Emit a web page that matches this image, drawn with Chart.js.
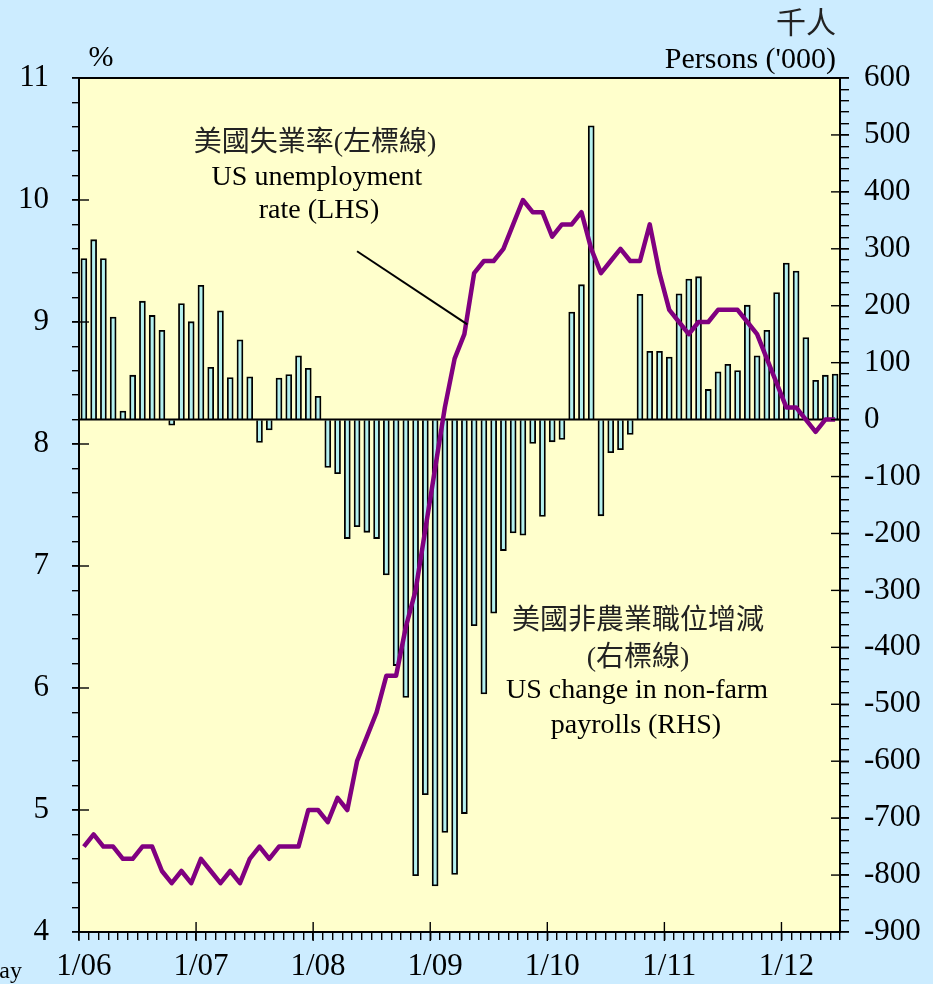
<!DOCTYPE html>
<html>
<head>
<meta charset="utf-8">
<script src="https://cdn.jsdelivr.net/npm/chart.js@4.4.1/dist/chart.umd.min.js"></script>
<style>
  html, body { margin: 0; padding: 0; background: #CCECFF; overflow: hidden; }
  canvas { display: block; }
</style>
</head>
<body>
<canvas id="c" width="933" height="984" style="width:933px;height:984px"></canvas>
<script>
// ---- Data (monthly, Jan 2006 - Jun 2012) ----
const months = [
  '1/06','2/06','3/06','4/06','5/06','6/06','7/06','8/06','9/06','10/06','11/06','12/06',
  '1/07','2/07','3/07','4/07','5/07','6/07','7/07','8/07','9/07','10/07','11/07','12/07',
  '1/08','2/08','3/08','4/08','5/08','6/08','7/08','8/08','9/08','10/08','11/08','12/08',
  '1/09','2/09','3/09','4/09','5/09','6/09','7/09','8/09','9/09','10/09','11/09','12/09',
  '1/10','2/10','3/10','4/10','5/10','6/10','7/10','8/10','9/10','10/10','11/10','12/10',
  '1/11','2/11','3/11','4/11','5/11','6/11','7/11','8/11','9/11','10/11','11/11','12/11',
  '1/12','2/12','3/12','4/12','5/12','6/12'
];
// US unemployment rate (%), left axis
const unemploymentRate = [
  4.7,4.8,4.7,4.7,4.6,4.6,4.7,4.7,4.5,4.4,4.5,4.4,
  4.6,4.5,4.4,4.5,4.4,4.6,4.7,4.6,4.7,4.7,4.7,5.0,
  5.0,4.9,5.1,5.0,5.4,5.6,5.8,6.1,6.1,6.5,6.8,7.3,
  7.8,8.3,8.7,8.9,9.4,9.5,9.5,9.6,9.8,10.0,9.9,9.9,
  9.7,9.8,9.8,9.9,9.6,9.4,9.5,9.6,9.5,9.5,9.8,9.4,
  9.1,9.0,8.9,9.0,9.0,9.1,9.1,9.1,9.0,8.9,8.7,8.5,
  8.3,8.3,8.2,8.1,8.2,8.2
];
// US change in non-farm payrolls ('000 persons), right axis
const payrollChange = [
  283,316,283,180,15,78,208,183,157,-10,204,172,
  236,92,191,74,140,75,-40,-18,73,79,112,90,
  41,-84,-95,-209,-188,-198,-209,-273,-432,-488,-801,-659,
  -819,-725,-799,-692,-362,-482,-340,-230,-199,-203,-42,-170,
  -39,-35,189,237,516,-169,-58,-53,-26,220,120,120,
  110,221,247,251,53,84,97,86,201,112,157,223,
  275,261,144,69,78,80
];
// Axis ranges / ticks
const leftAxis = { min: 4, max: 11, step: 0.2, majorLabels: [4,5,6,7,8,9,10,11] };
const rightAxis = { min: -900, max: 600, step: 20, majorLabels: [-900,-800,-700,-600,-500,-400,-300,-200,-100,0,100,200,300,400,500,600] };

const SERIF = "'Liberation Serif', 'Noto Sans CJK TC', serif";
const CJK = "'Liberation Serif', 'Noto Sans CJK TC', sans-serif";

const decor = {
  id: 'decor',
  beforeDraw(chart) {
    const { ctx, chartArea: a } = chart;
    ctx.save();
    ctx.fillStyle = '#CCECFF';
    ctx.fillRect(0, 0, chart.width, chart.height);
    ctx.fillStyle = '#FFFFCC';
    ctx.fillRect(a.left, a.top, a.right - a.left, a.bottom - a.top);
    ctx.restore();
  },
  afterDatasetDraw(chart, args) {
    if (args.meta.type !== 'bar') return;
    const { ctx, chartArea: a } = chart;
    const y0 = chart.scales.y2.getPixelForValue(0);
    ctx.save();
    ctx.strokeStyle = '#000';
    ctx.lineWidth = 2;
    ctx.beginPath();
    ctx.moveTo(a.left, y0);
    ctx.lineTo(a.right, y0);
    ctx.stroke();
    ctx.restore();
  },
  afterDraw(chart) {
    const { ctx, chartArea: a, scales } = chart;
    const xs = scales.x, ys = scales.y, y2 = scales.y2;
    ctx.save();
    ctx.strokeStyle = '#000';
    ctx.lineWidth = 1.4;
    // major ticks, left
    leftAxis.majorLabels.forEach(v => {
      const y = ys.getPixelForValue(v);
      ctx.beginPath(); ctx.moveTo(a.left - 7, y); ctx.lineTo(a.left + 10, y); ctx.stroke();
    });
    // major ticks, right
    rightAxis.majorLabels.forEach(v => {
      const y = y2.getPixelForValue(v);
      ctx.beginPath(); ctx.moveTo(a.right - 9, y); ctx.lineTo(a.right + 9, y); ctx.stroke();
    });
    // major ticks, bottom (start of each year)
    const w = xs.getPixelForValue(1) - xs.getPixelForValue(0);
    months.forEach((m, i) => {
      if (!m.startsWith('1/')) return;
      const x = xs.getPixelForValue(i) - w / 2;
      ctx.beginPath(); ctx.moveTo(x, a.bottom - 10); ctx.lineTo(x, a.bottom + 9); ctx.stroke();
    });
    // plot frame
    ctx.lineWidth = 2;
    ctx.strokeRect(a.left, a.top, a.right - a.left, a.bottom - a.top);

    // leader line for unemployment annotation
    ctx.lineWidth = 2;
    ctx.beginPath();
    ctx.moveTo(xs.getPixelForValue(28.0), ys.getPixelForValue(9.58));
    ctx.lineTo(xs.getPixelForValue(39.3), ys.getPixelForValue(8.98));
    ctx.stroke();

    // axis titles
    ctx.fillStyle = '#000';
    ctx.textBaseline = 'alphabetic';
    ctx.font = '30px ' + SERIF;
    ctx.textAlign = 'center';
    ctx.fillText('%', 101, 66);
    ctx.textAlign = 'right';
    ctx.fillText("Persons ('000)", 836, 68);
    ctx.font = '30px ' + CJK;
    ctx.fillStyle = '#222';
    ctx.fillText('千人', 836, 33);
    ctx.fillStyle = '#000';
    ctx.font = '24px ' + SERIF;
    ctx.fillText('May', 22, 978);

    // annotations
    ctx.textAlign = 'center';
    ctx.fillStyle = '#222';
    ctx.font = '28px ' + CJK;
    ctx.fillText('美國失業率(左標線)', 315, 151);
    ctx.fillText('美國非農業職位增減', 638, 629);
    ctx.fillText('(右標線)', 638, 666);
    ctx.fillStyle = '#000';
    ctx.font = '28px ' + SERIF;
    ctx.fillText('US unemployment', 317, 185);
    ctx.fillText('rate (LHS)', 319, 218);
    ctx.fillText('US change in non-farm', 637, 698);
    ctx.fillText('payrolls (RHS)', 636, 733);
    ctx.restore();
  }
};

const isInt = v => Math.abs(v - Math.round(v)) < 1e-6;

new Chart(document.getElementById('c'), {
  type: 'bar',
  data: {
    labels: months,
    datasets: [
      {
        type: 'line',
        label: 'US unemployment rate (LHS)',
        data: unemploymentRate,
        yAxisID: 'y',
        borderColor: '#800080',
        borderWidth: 4.5,
        borderJoinStyle: 'round',
        pointRadius: 0,
        tension: 0,
        fill: false,
        order: 0
      },
      {
        type: 'bar',
        label: 'US change in non-farm payrolls (RHS)',
        data: payrollChange,
        yAxisID: 'y2',
        backgroundColor: '#B4F0F0',
        borderColor: '#000',
        borderWidth: 1.8,
        barThickness: 6,
        order: 1
      }
    ]
  },
  options: {
    responsive: false,
    devicePixelRatio: 1,
    animation: false,
    events: [],
    layout: { padding: { top: 78, left: 0, right: 0, bottom: 0 } },
    plugins: { legend: { display: false }, tooltip: { enabled: false } },
    scales: {
      x: {
        type: 'category',
        offset: true,
        afterFit(s) { s.height = 52; },
        border: { display: false },
        grid: { offset: true, drawOnChartArea: false, drawTicks: true, tickLength: 8, color: '#000', lineWidth: 1.4 },
        ticks: {
          autoSkip: false, maxRotation: 0, minRotation: 0, padding: 8,
          color: '#000', font: { family: SERIF, size: 31 },
          callback: (v, i) => months[i].startsWith('1/') ? months[i] : ''
        }
      },
      y: {
        position: 'left',
        min: leftAxis.min, max: leftAxis.max,
        afterFit(s) { s.width = 79; },
        border: { display: false },
        grid: { drawOnChartArea: false, drawTicks: true, tickLength: 7, color: '#000', lineWidth: 1.4 },
        ticks: {
          stepSize: leftAxis.step, autoSkip: false, padding: 23,
          color: '#000', font: { family: SERIF, size: 31 },
          callback: v => (isInt(v) && leftAxis.majorLabels.includes(Math.round(v))) ? String(Math.round(v)) : ''
        }
      },
      y2: {
        position: 'right',
        min: rightAxis.min, max: rightAxis.max,
        afterFit(s) { s.width = 93; },
        border: { display: false },
        grid: { drawOnChartArea: false, drawTicks: true, tickLength: 9, color: '#000', lineWidth: 1.4 },
        ticks: {
          stepSize: rightAxis.step, autoSkip: false, padding: 15,
          color: '#000', font: { family: SERIF, size: 31 },
          callback: v => rightAxis.majorLabels.includes(Math.round(v)) && isInt(v) ? String(Math.round(v)) : ''
        }
      }
    }
  },
  plugins: [decor]
});
</script>
</body>
</html>
